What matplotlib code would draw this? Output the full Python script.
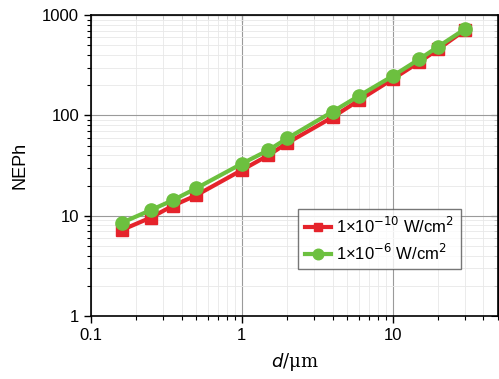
import matplotlib.pyplot as plt
from matplotlib.ticker import LogLocator, FixedLocator, NullFormatter

plt.rcParams['font.family'] = ['Liberation Sans', 'DejaVu Sans']

d_um = [0.16, 0.25, 0.35, 0.5, 1, 1.5, 2, 4, 6, 10, 15, 20, 30]
neph_low = [7.2, 9.6, 12.6, 16, 28.5, 40, 53, 96, 142, 230, 340, 457, 705]
neph_high = [8.5, 11.4, 14.3, 18.8, 33, 45, 59, 109, 157, 247, 363, 484, 722]

labels = ['1×10$^{-10}$ W/cm$^2$', '1×10$^{-6}$ W/cm$^2$']
colors = ['#e5232b', '#6cc03f']

fig = plt.figure(figsize=(4.99, 3.79), dpi=100)
ax = fig.add_axes([0.182, 0.166, 0.816, 0.794])

ax.plot(d_um, neph_low, '-s', color=colors[0], lw=3, ms=8, label=labels[0], zorder=3)
ax.plot(d_um, neph_high, '-o', color=colors[1], lw=3, ms=9.5, label=labels[1], zorder=4)

ax.set_xscale('log')
ax.set_yscale('log')
ax.set_xlim(0.1, 50)
ax.set_ylim(1, 1000)

ax.xaxis.set_major_locator(FixedLocator([0.1, 1, 10]))
ax.set_xticklabels(['0.1', '1', '10'])
ax.yaxis.set_major_locator(FixedLocator([1, 10, 100, 1000]))
ax.set_yticklabels(['1', '10', '100', '1000'])
ax.xaxis.set_minor_locator(LogLocator(base=10, subs=range(2, 10)))
ax.yaxis.set_minor_locator(LogLocator(base=10, subs=range(2, 10)))
ax.xaxis.set_minor_formatter(NullFormatter())
ax.yaxis.set_minor_formatter(NullFormatter())

ax.grid(which='major', color='#9a9a9a', lw=0.8)
ax.grid(which='minor', color='#e8e8e8', lw=0.6)
ax.set_axisbelow(True)

ax.tick_params(which='both', direction='out', labelsize=12, top=False, right=False)
ax.tick_params(which='major', length=5, width=1)
ax.tick_params(which='minor', length=3, width=0.8)
# inward ticks on top and right
ax2 = ax.secondary_xaxis('top')
ax2.xaxis.set_major_locator(FixedLocator([0.1, 1, 10]))
ax2.xaxis.set_minor_locator(LogLocator(base=10, subs=range(2, 10)))
ax2.tick_params(which='both', direction='in', labeltop=False)
ax2.tick_params(which='major', length=5)
ax2.tick_params(which='minor', length=3)
ay2 = ax.secondary_yaxis('right')
ay2.yaxis.set_major_locator(FixedLocator([1, 10, 100, 1000]))
ay2.yaxis.set_minor_locator(LogLocator(base=10, subs=range(2, 10)))
ay2.tick_params(which='both', direction='in', labelright=False)
ay2.tick_params(which='major', length=5)
ay2.tick_params(which='minor', length=3)

for s in ax.spines.values():
    s.set_linewidth(1.2)

ax.set_ylabel('NEPh', fontsize=13, labelpad=10)
ax.set_xlabel('$d$/μm', fontsize=13, family=['DejaVu Serif'], labelpad=6)

leg = ax.legend(loc='center right', bbox_to_anchor=(0.93, 0.255), fontsize=12,
                frameon=True, fancybox=False, edgecolor='#555555', handlelength=1.6,
                handletextpad=0.3, borderpad=0.4, labelspacing=0.4, markerscale=0.8)
leg.get_frame().set_linewidth(1)

fig.savefig('out.png', dpi=100)
